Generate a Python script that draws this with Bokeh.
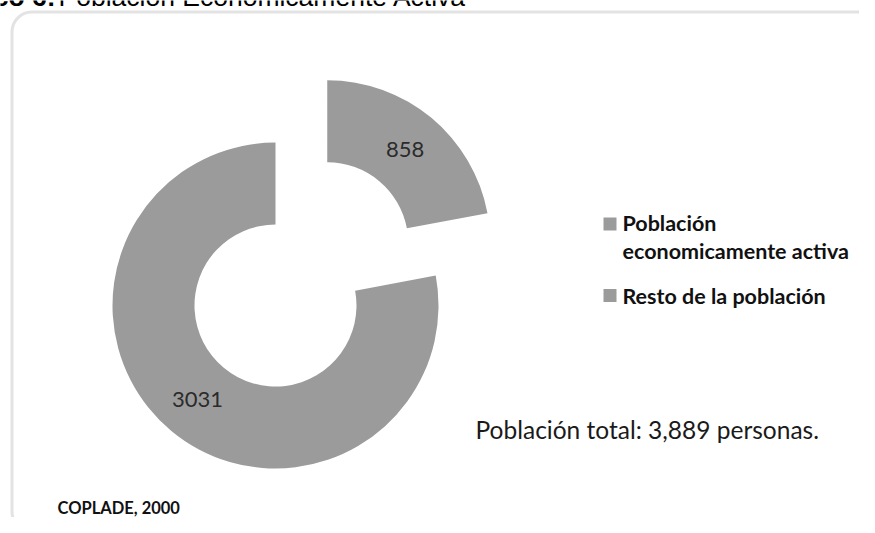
import numpy as np
from bokeh.plotting import figure
from bokeh.models import BoxAnnotation, ColumnDataSource, Range1d
from bokeh.core.properties import value
from bokeh.embed import file_html
from bokeh.resources import INLINE

# ---- data ----
categories = ["Población economicamente activa", "Resto de la población"]
values = [858, 3031]
legend_lines = [["Población", "economicamente activa"], ["Resto de la población"]]
title_bold = "Gráfico 6:"
title_rest = "Población Económicamente Activa"
total_label = "Población total: 3,889 personas."
source_label = "COPLADE, 2000"

# ---- layout (pixels == data units) ----
W, H = 859, 517
CX, CY = 275, 212
R_OUT, R_IN = 163, 81
EXPLODE = [81, 0]
GREY = "#9b9b9b"

total = sum(values)
cum = np.cumsum([0] + values)
start_cw = np.pi / 2 - 2 * np.pi * cum[:-1] / total
end_cw = np.pi / 2 - 2 * np.pi * cum[1:] / total
start_angle = end_cw
end_angle = start_cw
mid = (start_angle + end_angle) / 2
ex = np.array(EXPLODE, dtype=float)
cx = CX + ex * np.cos(mid)
cy = CY + ex * np.sin(mid)
r_mid = (R_OUT + R_IN) / 2
lx = cx + r_mid * np.cos(mid)
ly = cy + r_mid * np.sin(mid)

src = ColumnDataSource(dict(
    x=cx, y=cy, start=start_angle, end=end_angle,
    lx=lx, ly=ly, lab=[str(v) for v in values], cat=categories,
))

p = figure(width=W, height=H, x_range=Range1d(0, W), y_range=Range1d(0, H),
           x_axis_type=None, y_axis_type=None, min_border=0,
           toolbar_location=None, output_backend="svg")
p.grid.visible = False
p.outline_line_color = None
p.background_fill_color = "white"
p.border_fill_color = "white"

# rounded frame
p.add_layout(BoxAnnotation(left=11.5, right=880, top=505.5, bottom=-14,
                           border_radius=20, fill_alpha=0,
                           line_color="#a3a3a3", line_width=3, level="underlay"))

# title (cut at the top edge as in the reference)
p.text(x=[55], y=[521], text=[title_bold], text_align="right",
       text_baseline="alphabetic", text_font=value("Liberation Sans"),
       text_font_style="bold", text_font_size="26.5px", text_color="#000000")
p.text(x=[58], y=[521], text=[title_rest], text_align="left",
       text_baseline="alphabetic", text_font=value("Liberation Sans"),
       text_font_size="26.5px", text_color="#000000")

p.annular_wedge(x="x", y="y", inner_radius=R_IN, outer_radius=R_OUT,
                start_angle="start", end_angle="end", direction="anticlock",
                fill_color=GREY, line_color=None, source=src)

p.text(x="lx", y="ly", text="lab", source=src, text_align="center",
       text_baseline="middle", text_font=value("Lato"), text_font_size="22px",
       text_color="#2b2b2b")

# legend
sq_x = [609.5, 609.5]
sq_y = [293.5, 222]
p.scatter(x=sq_x, y=sq_y, marker="square", size=13, fill_color=GREY, line_color=None)
leg_x, leg_y, leg_t = [], [], []
line_ys = [[295, 267], [222]]
for lines, ys in zip(legend_lines, line_ys):
    for t, yy in zip(lines, ys):
        leg_x.append(622)
        leg_y.append(yy)
        leg_t.append(t)
p.text(x=leg_x, y=leg_y, text=leg_t, text_align="left", text_baseline="alphabetic",
       text_font=value("Lato"), text_font_style="bold", text_font_size="21.5px",
       text_color="#111111")

p.text(x=[475], y=[88], text=[total_label], text_align="left",
       text_baseline="alphabetic", text_font=value("Lato"),
       text_font_size="24.5px", text_color="#1a1a1a")

p.text(x=[57], y=[10], text=[source_label], text_align="left",
       text_baseline="alphabetic", text_font=value("Lato"),
       text_font_style="bold", text_font_size="16.5px", text_color="#111111")

open("out.html", "w").write(file_html(p, INLINE))
